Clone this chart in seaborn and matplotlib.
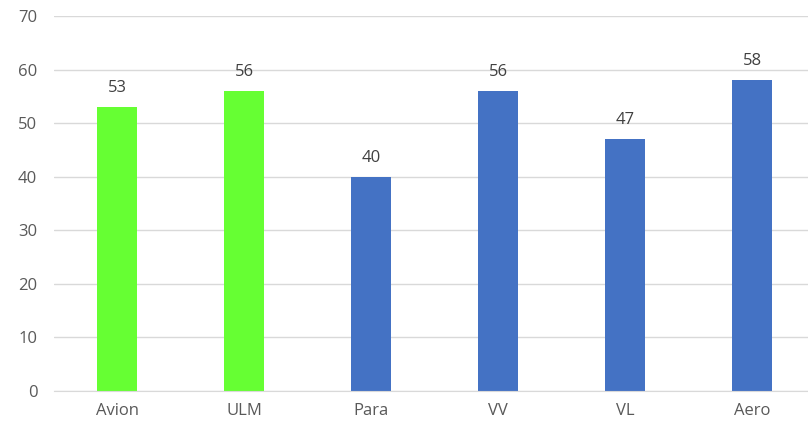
import pandas as pd
import seaborn as sns
from matplotlib import pyplot as plt

categories = ['Avion', 'ULM', 'Para', 'VV', 'VL', 'Aero']
values = [53, 56, 40, 56, 47, 58]
groups = ['g', 'g', 'b', 'b', 'b', 'b']
couleurs = {'g': '#66FF33', 'b': '#4472C4'}

sns.set_style("white")
plt.rcParams['font.family'] = ['Open Sans', 'DejaVu Sans']

df = pd.DataFrame({'cat': categories, 'val': values, 'grp': groups})

fig = plt.figure(figsize=(8.08, 4.29), dpi=100)
ax = fig.add_axes([0.0668, 0.0886, 0.9332, 0.8741])
sns.barplot(data=df, x='cat', y='val', hue='grp', palette=couleurs,
            width=0.315, dodge=False, legend=False, ax=ax, saturation=1,
            linewidth=0)

for i, v in enumerate(values):
    ax.annotate(str(v), (i, v), xytext=(0, 8), textcoords='offset points',
                ha='center', va='bottom', fontsize=12, color='#404040')

ax.set_ylim(0, 70)
ax.set_yticks(range(0, 71, 10))
ax.set_xlim(-0.5, 5.44)
ax.yaxis.grid(True, color='#D9D9D9', linewidth=1)
ax.set_axisbelow(True)
for s in ['top', 'right', 'left']:
    ax.spines[s].set_visible(False)
ax.spines['bottom'].set_color('#D9D9D9')
ax.tick_params(axis='both', length=0, labelsize=12, labelcolor='#595959')
ax.tick_params(axis='y', pad=12)
ax.tick_params(axis='x', pad=9)
ax.set_xlabel('')
ax.set_ylabel('')

plt.savefig("out.png")
